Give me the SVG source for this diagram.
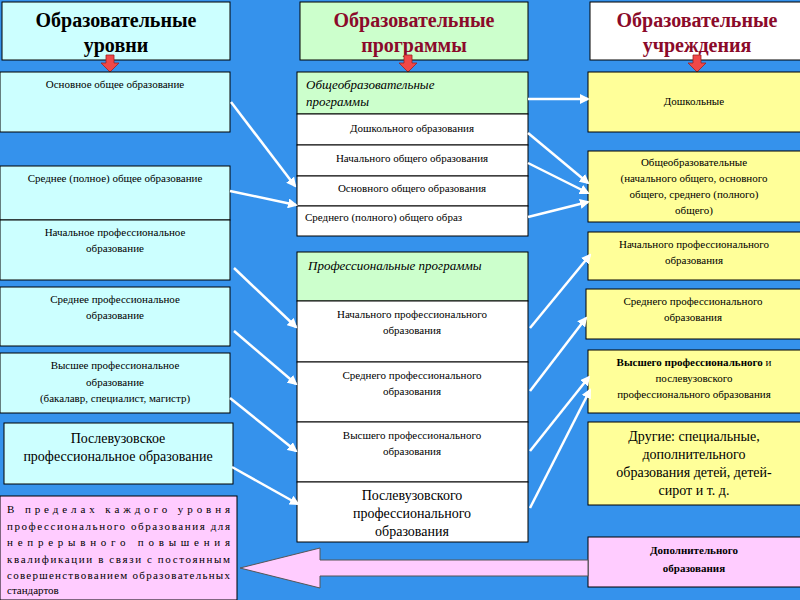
<svg xmlns="http://www.w3.org/2000/svg" width="800" height="600" viewBox="0 0 800 600">
<defs>
<style>
.b{stroke:#000;stroke-width:1}
.c{fill:#ccffff}.g{fill:#ccffcc}.w{fill:#fff}.y{fill:#ffff99}.p{fill:#ffccff}
text{font-family:"Liberation Serif","DejaVu Serif",serif;fill:#000;text-anchor:middle}
.s{font-size:11px}.m{font-size:14px}
.h{font-size:20px;font-weight:bold}
.r{fill:#8b0a2a}
.i{font-style:italic;font-size:13px;text-anchor:start}
.l{stroke:#fff;stroke-width:2.5;fill:none;marker-end:url(#a)}
</style>
<marker id="a" viewBox="0 0 10 10" refX="8" refY="5" markerWidth="4" markerHeight="4" orient="auto"><path d="M0,0L10,5L0,10z" fill="#fff"/></marker>
<g id="rd"><path d="M-4,0h8v8h5l-9,9l-9,-9h5z" fill="#f04848" stroke="#a02020" stroke-width="0.8"/></g>
</defs>
<rect width="800" height="600" fill="#3592ec"/>
<g id="h1"><rect class="b c" x="2" y="2" width="228" height="58"/><text class="h" x="116" y="27">Образовательные</text><text class="h" x="116" y="52">уровни</text></g>
<g id="h2"><rect class="b g" x="300" y="2" width="228" height="58"/><text class="h r" x="414" y="27">Образовательные</text><text class="h r" x="414" y="52">программы</text></g>
<g id="h3"><rect class="b w" x="590" y="2" width="212" height="58"/><text class="h r" x="697" y="27">Образовательные</text><text class="h r" x="697" y="52">учреждения</text></g>
<use href="#rd" x="110" y="55"/><use href="#rd" x="408" y="55"/><use href="#rd" x="697" y="55"/>

<g id="l1"><rect class="b c" x="0" y="72" width="230" height="60"/><text class="s" x="115" y="88">Основное общее образование</text></g>
<g id="l2"><rect class="b c" x="0" y="166" width="230" height="54"/><text class="s" x="115" y="182">Среднее (полное) общее образование</text></g>
<g id="l3"><rect class="b c" x="0" y="220" width="230" height="60"/><text class="s" x="115" y="236">Начальное профессиональное</text><text class="s" x="115" y="252">образование</text></g>
<g id="l4"><rect class="b c" x="0" y="287" width="230" height="59"/><text class="s" x="115" y="303">Среднее профессиональное</text><text class="s" x="115" y="319">образование</text></g>
<g id="l5"><rect class="b c" x="0" y="353" width="230" height="60"/><text class="s" x="115" y="369">Высшее профессиональное</text><text class="s" x="115" y="386">образование</text><text class="s" x="115" y="402">(бакалавр, специалист, магистр)</text></g>
<g id="l6"><rect class="b c" x="4" y="423" width="229" height="61"/><text class="m" x="118" y="443">Послевузовское</text><text class="m" x="118" y="461">профессиональное образование</text></g>
<g id="l7"><rect class="b p" x="0" y="496" width="237" height="104"/>
<g class="s" style="text-anchor:start">
<text x="7" y="513" style="text-anchor:start" textLength="223" lengthAdjust="spacing">В        пределах        каждого        уровня</text>
<text x="7" y="530" style="text-anchor:start" textLength="223" lengthAdjust="spacing">профессионального образования для</text>
<text x="7" y="546" style="text-anchor:start" textLength="223" lengthAdjust="spacing">непрерывного                      повышения</text>
<text x="7" y="563" style="text-anchor:start" textLength="223" lengthAdjust="spacing">квалификации в связи с постоянным</text>
<text x="7" y="579" style="text-anchor:start" textLength="223" lengthAdjust="spacing">совершенствованием образовательных</text>
<text x="7" y="594" style="text-anchor:start">стандартов</text></g></g>

<g id="m1"><rect class="b g" x="297" y="72" width="231" height="42"/><text class="i" x="306" y="89">Общеобразовательные</text><text class="i" x="306" y="106">программы</text></g>
<g id="m2"><rect class="b w" x="297" y="114" width="231" height="31"/><text class="s" x="412" y="132">Дошкольного образования</text></g>
<g id="m3"><rect class="b w" x="297" y="145" width="231" height="31"/><text class="s" x="412" y="162">Начального общего образования</text></g>
<g id="m4"><rect class="b w" x="297" y="176" width="231" height="30"/><text class="s" x="412" y="192">Основного общего образования</text></g>
<g id="m5"><rect class="b w" x="297" y="206" width="231" height="30"/><text class="s" x="305" y="221" style="text-anchor:start">Среднего (полного) общего образ</text></g>
<g id="m6"><rect class="b g" x="297" y="252" width="231" height="49"/><text class="i" x="308" y="270">Профессиональные программы</text></g>
<g id="m7"><rect class="b w" x="297" y="301" width="231" height="61"/><text class="s" x="412" y="318">Начального профессионального</text><text class="s" x="412" y="334">образования</text></g>
<g id="m8"><rect class="b w" x="297" y="362" width="231" height="60"/><text class="s" x="412" y="379">Среднего профессионального</text><text class="s" x="412" y="395">образования</text></g>
<g id="m9"><rect class="b w" x="297" y="422" width="231" height="60"/><text class="s" x="412" y="439">Высшего профессионального</text><text class="s" x="412" y="455">образования</text></g>
<g id="m10"><rect class="b w" x="297" y="482" width="231" height="60"/><text class="m" x="412" y="500">Послевузовского</text><text class="m" x="412" y="518">профессионального</text><text class="m" x="412" y="536">образования</text></g>

<g id="r1"><rect class="b y" x="588" y="72" width="214" height="60"/><text class="s" x="694" y="105">Дошкольные</text></g>
<g id="r2"><rect class="b y" x="588" y="151" width="214" height="71"/><text class="s" x="694" y="166">Общеобразовательные</text><text class="s" x="694" y="182">(начального общего, основного</text><text class="s" x="694" y="198">общего, среднего (полного)</text><text class="s" x="694" y="214">общего)</text></g>
<g id="r3"><rect class="b y" x="588" y="232" width="214" height="48"/><text class="s" x="694" y="248">Начального профессионального</text><text class="s" x="694" y="264">образования</text></g>
<g id="r4"><rect class="b y" x="586" y="289" width="216" height="50"/><text class="s" x="693" y="305">Среднего профессионального</text><text class="s" x="693" y="321">образования</text></g>
<g id="r5"><rect class="b y" x="588" y="350" width="214" height="63"/><text class="s" x="694" y="366"><tspan font-weight="bold">Высшего профессионального</tspan> и</text><text class="s" x="694" y="382">послевузовского</text><text class="s" x="694" y="398">профессионального образования</text></g>
<g id="r6"><rect class="b y" x="588" y="422" width="214" height="83"/><text class="m" x="694" y="441">Другие: специальные,</text><text class="m" x="694" y="459">дополнительного</text><text class="m" x="694" y="477">образования детей, детей-</text><text class="m" x="694" y="495">сирот и т. д.</text></g>
<g id="r7"><rect class="b p" x="588" y="537" width="214" height="50"/><text class="s" x="694" y="554" font-weight="bold">Дополнительного</text><text class="s" x="694" y="572" font-weight="bold">образования</text></g>

<g id="connectors">
<path d="M588,560H320V548L240,568L320,588V576H588z" fill="#ffccff" stroke="#555" stroke-width="1"/>
<path class="l" d="M231,102L295,186"/>
<path class="l" d="M230,191L296,205"/>
<path class="l" d="M234,268L296,327"/>
<path class="l" d="M234,331L296,384"/>
<path class="l" d="M230,398L296,451"/>
<path class="l" d="M232,467L298,504"/>
<path class="l" d="M528,99L588,99"/>
<path class="l" d="M528,133L588,183"/>
<path class="l" d="M528,163L588,193"/>
<path class="l" d="M528,217L588,202"/>
<path class="l" d="M530,328L590,255"/>
<path class="l" d="M530,391L586,318"/>
<path class="l" d="M530,451L589,377"/>
<path class="l" d="M530,508L590,390"/>
</g>
</svg>
